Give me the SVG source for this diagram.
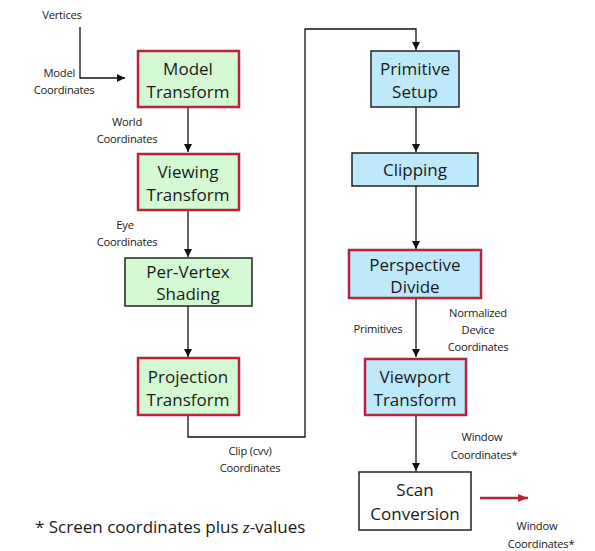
<svg xmlns="http://www.w3.org/2000/svg" width="595" height="551" viewBox="0 0 595 551">
<style>
text{font-family:"Open Sans","Noto Sans","DejaVu Sans",sans-serif;fill:#1a1a1a}
.lb{font-size:11.2px;letter-spacing:-0.25px;text-anchor:middle}
.bx{font-size:17px;text-anchor:middle}
.g{fill:#d5f9d3}
.b{fill:#bde9fb}
.red{stroke:#b8233a;stroke-width:2.5}
.blk{stroke:#222;stroke-width:1.5}
.c{fill:none;stroke:#111;stroke-width:1.3}
</style>
<defs>
<marker id="ah" viewBox="0 0 10 10" refX="10" refY="5" markerWidth="8" markerHeight="8" markerUnits="userSpaceOnUse" orient="auto"><path d="M0,0L10,5L0,10z" fill="#111"/></marker>
<marker id="ar" viewBox="0 0 10 10" refX="10" refY="5" markerWidth="10" markerHeight="10" markerUnits="userSpaceOnUse" orient="auto"><path d="M0,1L10,5L0,9z" fill="#b8233a"/></marker>
</defs>
<g id="connectors">
<path class="c" d="M80,27V78H125" marker-end="url(#ah)"/>
<path class="c" d="M188,108V152" marker-end="url(#ah)"/>
<path class="c" d="M188,211V257" marker-end="url(#ah)"/>
<path class="c" d="M188,306V357" marker-end="url(#ah)"/>
<path class="c" d="M188,416V437H305V29H416V50" marker-end="url(#ah)"/>
<path class="c" d="M416,107V152" marker-end="url(#ah)"/>
<path class="c" d="M416,186V249" marker-end="url(#ah)"/>
<path class="c" d="M416,299V357" marker-end="url(#ah)"/>
<path class="c" d="M416,415V471" marker-end="url(#ah)"/>
<path d="M480,498H528" fill="none" stroke="#b8233a" stroke-width="2.6" marker-end="url(#ar)"/>
</g>
<g id="labels">
<text class="lb" x="62" y="19">Vertices</text>
<text class="lb" x="75" y="77" style="text-anchor:end">Model</text>
<text class="lb" x="64" y="94">Coordinates</text>
<text class="lb" x="127" y="126">World</text>
<text class="lb" x="127" y="143">Coordinates</text>
<text class="lb" x="125" y="229">Eye</text>
<text class="lb" x="127" y="246">Coordinates</text>
<text class="lb" x="250" y="455">Clip (cvv)</text>
<text class="lb" x="250" y="472">Coordinates</text>
<text class="lb" x="378" y="333">Primitives</text>
<text class="lb" x="478" y="317">Normalized</text>
<text class="lb" x="478" y="334">Device</text>
<text class="lb" x="478" y="351">Coordinates</text>
<text class="lb" x="482" y="441">Window</text>
<text class="lb" x="484" y="459">Coordinates*</text>
<text class="lb" x="537" y="530">Window</text>
<text class="lb" x="541" y="548">Coordinates*</text>
<text x="35" y="533" style="font-size:17px">* Screen coordinates plus <tspan font-style="italic" font-family="Liberation Serif,serif">z</tspan>-values</text>
</g>
<g id="model-transform"><rect class="g red" x="138" y="51" width="101" height="56"/><text class="bx" x="188" y="75">Model</text><text class="bx" x="188" y="98">Transform</text></g>
<g id="viewing-transform"><rect class="g red" x="138" y="154" width="101" height="56"/><text class="bx" x="188" y="178">Viewing</text><text class="bx" x="188" y="201">Transform</text></g>
<g id="per-vertex-shading"><rect class="g blk" x="125" y="258" width="127" height="48"/><text class="bx" x="188" y="278">Per-Vertex</text><text class="bx" x="188" y="300">Shading</text></g>
<g id="projection-transform"><rect class="g red" x="138" y="358" width="101" height="57"/><text class="bx" x="188" y="383">Projection</text><text class="bx" x="188" y="406">Transform</text></g>
<g id="primitive-setup"><rect class="b blk" x="371" y="51" width="88" height="56"/><text class="bx" x="415" y="75">Primitive</text><text class="bx" x="415" y="98">Setup</text></g>
<g id="clipping"><rect class="b blk" x="352" y="153" width="126" height="33"/><text class="bx" x="415" y="176">Clipping</text></g>
<g id="perspective-divide"><rect class="b red" x="349" y="250" width="132" height="48"/><text class="bx" x="415" y="271">Perspective</text><text class="bx" x="415" y="293">Divide</text></g>
<g id="viewport-transform"><rect class="b red" x="365" y="359" width="101" height="56"/><text class="bx" x="415" y="383">Viewport</text><text class="bx" x="415" y="406">Transform</text></g>
<g id="scan-conversion"><rect fill="#fff" class="blk" x="359" y="472" width="112" height="58"/><text class="bx" x="415" y="496">Scan</text><text class="bx" x="415" y="520">Conversion</text></g>
</svg>
